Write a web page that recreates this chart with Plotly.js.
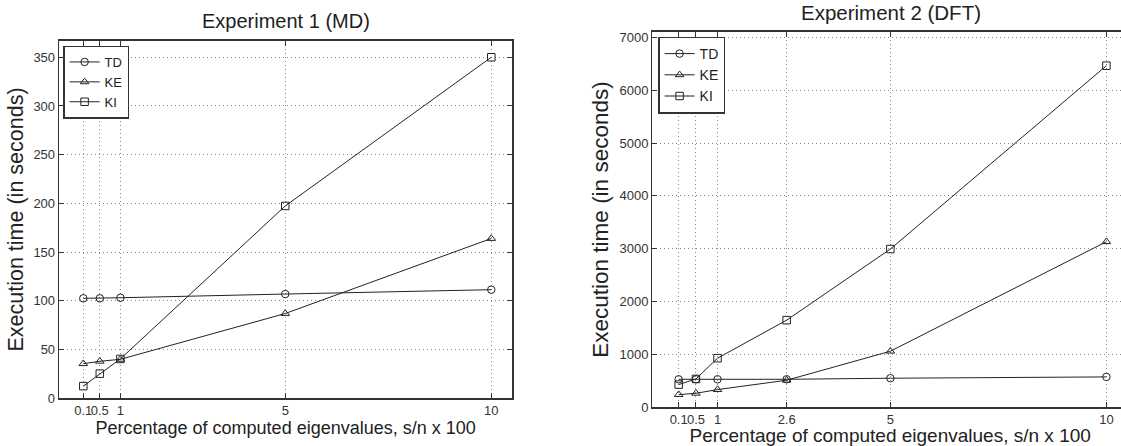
<!DOCTYPE html>
<html>
<head>
<meta charset="utf-8">
<script src="https://cdn.plot.ly/plotly-3.0.1.min.js"></script>
<style>
html,body{margin:0;padding:0;overflow:hidden;background:#fff;}
#chart{width:1130px;height:446px;}
</style>
</head>
<body>
<div id="chart"></div>
<script>
// Experiment 1 (MD)
const x1 = [0.1, 0.5, 1, 5, 10];
const td1 = [102.6, 102.6, 103.2, 107, 111.5];
const ke1 = [35.5, 38, 40, 87, 164];
const ki1 = [12.5, 25.3, 40.4, 197.4, 350];
const x1Ticks = [0.1, 0.5, 1, 5, 10];
const x1TickText = ['0.1', '0.5', '1', '5', '10'];

// Experiment 2 (DFT)
const x2 = [0.1, 0.5, 1, 2.6, 5, 10];
const td2 = [530, 530, 530, 530, 550, 575];
const ke2 = [240, 265, 335, 512, 1061, 3133];
const ki2 = [430, 537, 929, 1649, 2994, 6463];
const x2Ticks = [0.1, 0.5, 1, 2.6, 5, 10];
const x2TickText = ['0.1', '0.5', '1', '2.6', '5', '10'];

const seriesNames = ['TD', 'KE', 'KI'];
const symbols = ['circle-open', 'triangle-up-open', 'square-open'];

const W = 1130, H = 446;
const lineCol = '#222';
const font = 'Liberation Sans, Arial, Helvetica, sans-serif';

function mk(x, y, i, xa, ya, lg) {
  return {
    x: x, y: y, name: seriesNames[i], type: 'scatter', mode: 'lines+markers',
    xaxis: xa, yaxis: ya, legend: lg,
    line: {color: lineCol, width: 1},
    marker: {symbol: symbols[i], size: 7.5, color: lineCol, line: {color: lineCol, width: 1}}
  };
}

const data = [
  mk(x1, td1, 0, 'x', 'y', 'legend'),
  mk(x1, ke1, 1, 'x', 'y', 'legend'),
  mk(x1, ki1, 2, 'x', 'y', 'legend'),
  mk(x2, td2, 0, 'x2', 'y2', 'legend2'),
  mk(x2, ke2, 1, 'x2', 'y2', 'legend2'),
  mk(x2, ki2, 2, 'x2', 'y2', 'legend2')
];

const axBase = {
  showline: true, linecolor: '#333', linewidth: 1.3, mirror: 'ticks',
  ticks: 'inside', ticklen: 5, tickcolor: '#333', tickwidth: 1,
  showgrid: true, gridcolor: '#888', griddash: '1px,3px', gridwidth: 1,
  zeroline: false, tickfont: {family: font, size: 13, color: '#333'},
  tickangle: 0, automargin: false
};

const px = v => v / W;
const py = v => 1 - v / H;

const layout = {
  width: W, height: H,
  margin: {l: 0, r: 0, t: 0, b: 0},
  paper_bgcolor: '#fff', plot_bgcolor: '#fff',
  font: {family: font, color: '#222'},
  xaxis: Object.assign({}, axBase, {
    domain: [px(59), px(512.3)], anchor: 'y', range: [-0.49, 10.51],
    tickmode: 'array', tickvals: x1Ticks, ticktext: x1TickText,
    title: {text: 'Percentage of computed eigenvalues, s/n x 100', font: {family: font, size: 18, color: '#222'}, standoff: 0}
  }),
  yaxis: Object.assign({}, axBase, {
    domain: [py(398.3), py(40.7)], anchor: 'x', range: [0, 367],
    tickmode: 'array', tickvals: [0, 50, 100, 150, 200, 250, 300, 350],
    title: {text: 'Execution time (in seconds)', font: {family: font, size: 21.5, color: '#222'}, standoff: 4}
  }),
  xaxis2: Object.assign({}, axBase, {
    domain: [px(652.3), px(1128)], anchor: 'y2', range: [-0.51, 10.5],
    tickmode: 'array', tickvals: x2Ticks, ticktext: x2TickText,
    title: {text: 'Percentage of computed eigenvalues, s/n x 100', font: {family: font, size: 19, color: '#222'}, standoff: 1}
  }),
  yaxis2: Object.assign({}, axBase, {
    domain: [py(407.3), py(31.7)], anchor: 'x2', range: [0, 7106],
    tickmode: 'array', tickvals: [0, 1000, 2000, 3000, 4000, 5000, 6000, 7000],
    title: {text: 'Execution time (in seconds)', font: {family: font, size: 22.5, color: '#222'}, standoff: 4}
  }),
  legend: {
    x: px(63.3), y: py(45.7), xanchor: 'left', yanchor: 'top',
    bgcolor: '#fff', bordercolor: '#333', borderwidth: 1.3,
    font: {family: font, size: 13, color: '#222'}, tracegroupgap: 0,
    itemwidth: 30
  },
  legend2: {
    x: px(658.3), y: py(36.7), xanchor: 'left', yanchor: 'top',
    bgcolor: '#fff', bordercolor: '#333', borderwidth: 1.3,
    font: {family: font, size: 14, color: '#222'}, tracegroupgap: 0,
    itemwidth: 30
  },
  annotations: [
    {text: 'Experiment 1 (MD)', xref: 'paper', yref: 'paper', x: px(286), y: py(21), xanchor: 'center', yanchor: 'middle', showarrow: false, font: {family: font, size: 20, color: '#222'}},
    {text: 'Experiment 2 (DFT)', xref: 'paper', yref: 'paper', x: px(891), y: py(13), xanchor: 'center', yanchor: 'middle', showarrow: false, font: {family: font, size: 20.5, color: '#222'}}
  ],
  showlegend: true
};

Plotly.newPlot('chart', data, layout, {displayModeBar: false, staticPlot: true});
</script>
</body>
</html>
